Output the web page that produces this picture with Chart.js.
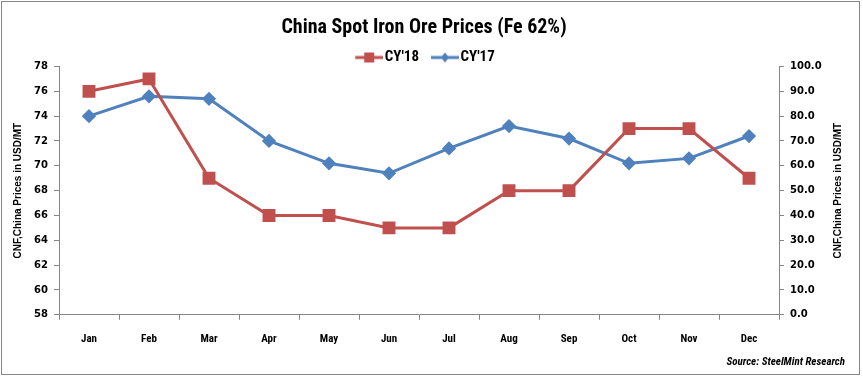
<!DOCTYPE html>
<html>
<head>
<meta charset="utf-8">
<script src="https://cdn.jsdelivr.net/npm/chart.js@4.4.1/dist/chart.umd.min.js"></script>
<style>
  html, body { margin: 0; padding: 0; background: #fff; }
  #wrap { width: 863px; height: 377px; }
</style>
</head>
<body>
<div id="wrap"><canvas id="grafico" width="863" height="377"></canvas></div>
<script>
// datos
const meses = ['Jan', 'Feb', 'Mar', 'Apr', 'May', 'Jun', 'Jul', 'Aug', 'Sep', 'Oct', 'Nov', 'Dec'];
const cy18 = [76, 77, 69, 66, 66, 65, 65, 68, 68, 73, 73, 69];
const cy17 = [80, 88, 87, 70, 61, 57, 67, 76, 71, 61, 63, 72];

const ROJO = '#C0504D';
const AZUL = '#4F81BD';
const GRIS = '#868686';
const NARROW = '"Liberation Sans Narrow", "Arial Narrow", "Roboto Condensed", "Liberation Sans", sans-serif';
const ARIAL = '"Liberation Sans", Arial, sans-serif';
const tituloEje = 'CNF,China Prices in USD/MT';

// icono de la leyenda: linea con marcador (margen transparente a la izquierda)
function iconoLeyenda(color, forma) {
    const c = document.createElement('canvas');
    c.width = 36;
    c.height = 14;
    const g = c.getContext('2d');
    g.strokeStyle = color;
    g.lineWidth = 3;
    g.beginPath();
    g.moveTo(8, 7);
    g.lineTo(36, 7);
    g.stroke();
    g.fillStyle = color;
    if (forma === 'rect') {
        g.fillRect(17, 2, 10, 10);
    } else {
        g.beginPath();
        g.moveTo(22, 2);
        g.lineTo(26, 7);
        g.lineTo(22, 12);
        g.lineTo(18, 7);
        g.closePath();
        g.fill();
    }
    return c;
}
const iconos = [iconoLeyenda(ROJO, 'rect'), iconoLeyenda(AZUL, 'diamond')];

// borde exterior, titulo del eje derecho y alto de la leyenda
const extras = {
    id: 'extras',
    beforeLayout(chart) {
        const leyenda = chart.legend;
        if (leyenda && !leyenda._ajustada) {
            const fitOriginal = leyenda.fit;
            leyenda.fit = function () {
                fitOriginal.call(this);
                this.height = 26.5;
            };
            leyenda._ajustada = true;
        }
    },
    afterDraw(chart) {
        const ctx = chart.ctx;
        const area = chart.chartArea;
        ctx.save();
        ctx.strokeStyle = GRIS;
        ctx.lineWidth = 1;
        ctx.strokeRect(1.5, 1.5, 858, 373);
        ctx.translate(838, (area.top + area.bottom) / 2);
        ctx.rotate(-Math.PI / 2);
        ctx.fillStyle = '#000';
        ctx.font = 'bold 10px ' + ARIAL;
        ctx.textAlign = 'center';
        ctx.textBaseline = 'middle';
        ctx.fillText(tituloEje, 0, 0);
        ctx.restore();
    }
};

const ctx = document.getElementById('grafico').getContext('2d');
new Chart(ctx, {
    type: 'line',
    data: {
        labels: meses,
        datasets: [
            {
                label: "CY'18",
                data: cy18,
                yAxisID: 'y',
                borderColor: ROJO,
                backgroundColor: ROJO,
                borderWidth: 3,
                pointStyle: 'rect',
                pointRadius: 7,
                pointHoverRadius: 7,
                fill: false,
                tension: 0
            },
            {
                label: "CY'17",
                data: cy17,
                yAxisID: 'y2',
                borderColor: AZUL,
                backgroundColor: AZUL,
                borderWidth: 3,
                pointStyle: 'rectRot',
                pointRadius: 5,
                pointHoverRadius: 5,
                fill: false,
                tension: 0
            }
        ]
    },
    options: {
        responsive: false,
        animation: false,
        layout: { padding: { top: 4, left: 3, right: 18, bottom: 4 } },
        plugins: {
            title: {
                display: true,
                text: 'China Spot Iron Ore Prices (Fe 62%)',
                color: '#000',
                font: { family: NARROW, size: 20, weight: 'bold' },
                padding: { top: 12, bottom: 0 }
            },
            subtitle: {
                display: true,
                position: 'bottom',
                align: 'end',
                text: 'Source: SteelMint Research',
                color: '#000',
                font: { family: NARROW, size: 11, weight: 'bold', style: 'italic' },
                padding: { top: 6, bottom: 4 }
            },
            legend: {
                display: true,
                position: 'top',
                labels: {
                    color: '#000',
                    font: { family: NARROW, size: 15, weight: 'bold' },
                    usePointStyle: true,
                    pointStyleWidth: 24,
                    boxHeight: 12,
                    padding: 10,
                    generateLabels(chart) {
                        return chart.data.datasets.map((d, i) => ({
                            text: d.label,
                            fillStyle: d.backgroundColor,
                            strokeStyle: d.borderColor,
                            fontColor: '#000',
                            lineWidth: 0,
                            pointStyle: iconos[i],
                            hidden: false,
                            datasetIndex: i
                        }));
                    }
                }
            },
            tooltip: { enabled: false }
        },
        scales: {
            x: {
                offset: true,
                grid: {
                    display: true,
                    drawOnChartArea: false,
                    drawTicks: true,
                    tickLength: 5,
                    color: GRIS,
                    offset: true
                },
                border: { display: true, color: GRIS, width: 1 },
                ticks: {
                    color: '#000',
                    font: { family: NARROW, size: 11, weight: 'bold' },
                    padding: 13,
                    maxRotation: 0
                },
                afterFit(scale) { scale.height = 35; }
            },
            y: {
                position: 'left',
                min: 58,
                max: 78,
                ticks: {
                    stepSize: 2,
                    color: '#000',
                    font: { family: '"DejaVu Sans", Verdana, sans-serif', size: 10, weight: 'bold' },
                    padding: 6
                },
                grid: {
                    drawOnChartArea: false,
                    drawTicks: true,
                    tickLength: 5,
                    color: GRIS
                },
                border: { display: true, color: GRIS, width: 1 },
                title: {
                    display: true,
                    text: tituloEje,
                    color: '#000',
                    font: { family: ARIAL, size: 10, weight: 'bold' },
                    padding: { top: 9, bottom: 0 }
                },
                afterFit(scale) { scale.width = 56; }
            },
            y2: {
                position: 'right',
                min: 0,
                max: 100,
                ticks: {
                    stepSize: 10,
                    color: '#000',
                    font: { family: '"DejaVu Sans", Verdana, sans-serif', size: 10, weight: 'bold' },
                    padding: 6,
                    callback: v => v.toFixed(1)
                },
                grid: {
                    drawOnChartArea: false,
                    drawTicks: true,
                    tickLength: 5,
                    color: GRIS
                },
                border: { display: true, color: GRIS, width: 1 },
                afterFit(scale) { scale.width = 66; }
            }
        }
    },
    plugins: [extras]
});
</script>
</body>
</html>
